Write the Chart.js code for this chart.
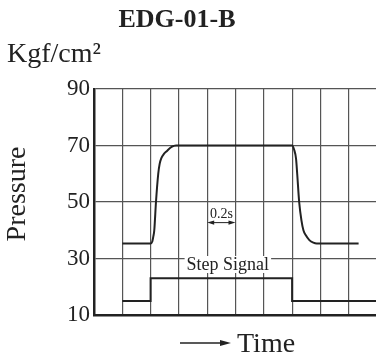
<!DOCTYPE html>
<html>
<head>
<meta charset="utf-8">
<script src="https://cdn.jsdelivr.net/npm/chart.js@4"></script>
<style>
  html, body { margin: 0; padding: 0; overflow: hidden; background: #fff; }
</style>
</head>
<body>
<canvas id="chart" width="380" height="358"></canvas>
<script>
// данные
const yTicks = [10, 30, 50, 70, 90];
const pressureTime = [1, 2.0, 2.06, 2.1, 2.13, 2.19, 2.27, 2.32, 2.38, 2.47, 2.57, 2.74, 2.9,
  7.0, 7.07, 7.14, 7.18, 7.25, 7.33, 7.4, 7.48, 7.61, 7.75, 7.87, 9.35];
const pressureValue = [35.3, 35.3, 36, 38, 40, 50, 60, 63.5, 65.5, 67, 68, 69.5, 70,
  70, 68.6, 65.3, 60, 50, 43.5, 40, 38.3, 36.5, 35.6, 35.3, 35.3];
const signalTime = [1, 2, 7, 10];
const signalValue = [15, 23, 15, 15];

const serif = '"Liberation Serif", "Times New Roman", serif';
const ink = '#222';

function arrowHead(ctx, x, y, dir, len, half) {
  ctx.beginPath();
  ctx.moveTo(x, y);
  ctx.lineTo(x - dir * len, y - half);
  ctx.lineTo(x - dir * len, y + half);
  ctx.closePath();
  ctx.fill();
}

// подписи и стрелки поверх графика
const labels = {
  id: 'labels',
  afterDraw(chart) {
    const {ctx, scales: {x, y}} = chart;
    ctx.save();
    ctx.fillStyle = ink;
    ctx.strokeStyle = ink;

    ctx.font = 'bold 26px ' + serif;
    ctx.textAlign = 'center';
    ctx.textBaseline = 'alphabetic';
    ctx.fillText('EDG-01-B', 177, 27);

    ctx.font = '28px ' + serif;
    ctx.textAlign = 'left';
    ctx.fillText('Kgf/cm²', 7, 62);

    ctx.save();
    ctx.translate(18, 194);
    ctx.rotate(-Math.PI / 2);
    ctx.font = '28px ' + serif;
    ctx.textAlign = 'center';
    ctx.textBaseline = 'middle';
    ctx.fillText('Pressure', 0, 0);
    ctx.restore();

    // Time со стрелкой
    ctx.font = '28px ' + serif;
    ctx.textAlign = 'left';
    ctx.fillText('Time', 237, 352);
    ctx.lineWidth = 1.5;
    ctx.beginPath();
    ctx.moveTo(180, 343);
    ctx.lineTo(222, 343);
    ctx.stroke();
    arrowHead(ctx, 231, 343, 1, 11, 3);

    // Step Signal
    const sx = x.getPixelForValue(4.73);
    const sy = y.getPixelForValue(27.7);
    ctx.font = '18px ' + serif;
    ctx.textAlign = 'center';
    ctx.textBaseline = 'middle';
    const w = ctx.measureText('Step Signal').width;
    ctx.fillStyle = '#fff';
    ctx.fillRect(sx - w / 2 - 2, sy - 9, w + 4, 17);
    ctx.fillStyle = ink;
    ctx.fillText('Step Signal', sx, sy);

    // 0.2s
    const x0 = x.getPixelForValue(4);
    const x1 = x.getPixelForValue(5);
    const ay = y.getPixelForValue(42.7);
    ctx.font = '14px ' + serif;
    ctx.textBaseline = 'alphabetic';
    ctx.fillText('0.2s', (x0 + x1) / 2, y.getPixelForValue(44.3));
    ctx.lineWidth = 1;
    ctx.beginPath();
    ctx.moveTo(x0 + 4, ay);
    ctx.lineTo(x1 - 4, ay);
    ctx.stroke();
    arrowHead(ctx, x0, ay, -1, 7, 2.2);
    arrowHead(ctx, x1, ay, 1, 7, 2.2);
    ctx.restore();
  }
};

const ctx = document.getElementById('chart').getContext('2d');
new Chart(ctx, {
  type: 'line',
  data: {
    datasets: [{
      label: 'Pressure',
      data: pressureTime.map((t, i) => ({x: t, y: pressureValue[i]})),
      borderColor: ink,
      borderWidth: 2,
      pointRadius: 0,
      fill: false,
      cubicInterpolationMode: 'monotone'
    }, {
      label: 'Step Signal',
      data: signalTime.map((t, i) => ({x: t, y: signalValue[i]})),
      borderColor: ink,
      borderWidth: 2,
      pointRadius: 0,
      fill: false,
      stepped: true
    }]
  },
  options: {
    responsive: false,
    animation: false,
    layout: { padding: { top: 89, bottom: 43, left: 0, right: 3 } },
    plugins: {
      legend: { display: false },
      tooltip: { enabled: false }
    },
    scales: {
      x: {
        type: 'linear',
        min: 0,
        max: 10,
        ticks: { display: false, stepSize: 1 },
        grid: { color: '#555', lineWidth: 1.2, drawTicks: false },
        border: { color: ink, width: 2.5 },
        afterFit(scale) { scale.height = 0; }
      },
      y: {
        min: 10,
        max: 90,
        ticks: {
          stepSize: 10,
          padding: 4,
          color: ink,
          font: { family: serif, size: 23 },
          callback: (v) => yTicks.includes(v) ? v : ''
        },
        grid: { color: '#555', lineWidth: 1.2, drawTicks: false },
        border: { color: ink, width: 2.5 },
        afterFit(scale) { scale.width = 94; }
      }
    }
  },
  plugins: [labels]
});
</script>
</body>
</html>
